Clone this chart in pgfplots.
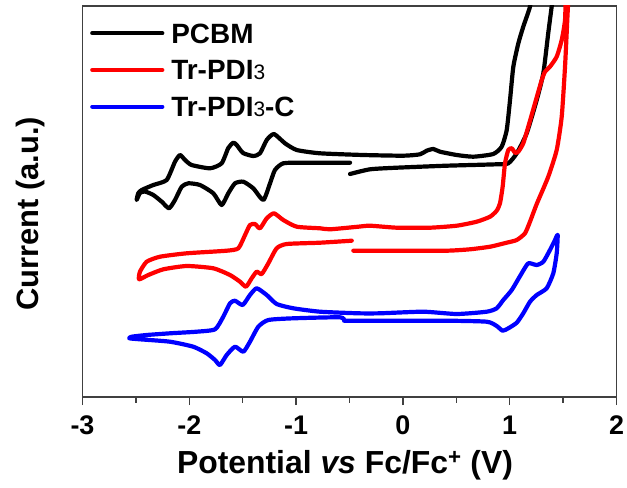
\documentclass[border=0pt]{standalone}
\usepackage{pgfplots}
\pgfplotsset{compat=1.18}
\usepackage{fontspec}
\setmainfont{Liberation Sans}
\newcommand{\three}{{\fontseries{m}\selectfont\fontsize{21}{21}\selectfont 3}}
\begin{document}
\begin{tikzpicture}
\begin{axis}[name=ax, scale only axis, width=534bp, height=391bp,
  xmin=-3, xmax=2, ymin=0, ymax=391,
  xtick={-3,-2,-1,0,1,2}, xticklabels={-3,-2,-1,0,1,2},
  minor x tick num=1, ytick=\empty, xtick pos=bottom, tick align=outside,
  major tick length=8bp, minor tick length=5.5bp,
  axis line style={line width=1.3bp, black!75},
  every tick/.style={line width=1.3bp, black!75},
  xticklabel style={font=\bfseries\fontsize{27}{27}\selectfont, black, anchor=base, yshift=-29bp},
  xlabel={Potential \textit{vs} Fc/Fc\textsuperscript{+} (V)},
  ylabel={Current (a.u.)},
  xlabel style={font=\bfseries\fontsize{32}{32}\selectfont, at={(axis description cs:0.4916,-0.1944)}, anchor=base},
  ylabel style={font=\bfseries\fontsize{31}{31}\selectfont, at={(axis description cs:-0.0833,0.468)}, anchor=base},
  legend style={at={(axis description cs:0.014,0.9565)}, anchor=north west, draw=none, fill=none,
    font=\bfseries\fontsize{28}{28}\selectfont, row sep=16.7bp, inner sep=0pt,
    nodes={text height=20bp, text depth=0bp, inner sep=0pt},
    /tikz/every odd column/.style={column sep=7bp}},
  legend cell align=left,
  legend image code/.code={\draw[#1, line width=4.2bp] (0bp,0bp) -- (70bp,0bp);},
  every axis plot/.append style={line width=4.2bp, line join=round, line cap=round, smooth, tension=0.35},
]
\addplot[black] coordinates {
(-0.495,223) (-0.308,227.7) (-0.058,229.3) (0.410,231.3) (0.878,232.7) (0.987,233.7)
(1.066,243.7) (1.159,263.7) (1.253,297) (1.315,324) (1.361,364) (1.393,390.3) (1.415,407)
(1.209,407) (1.190,390.3) (1.127,370.3) (1.081,353.7) (1.034,330.3) (1.003,297) (0.972,267)
(0.925,250.3) (0.846,243) (0.659,240.3) (0.504,242) (0.347,245.3) (0.285,248) (0.223,246.3)
(0.160,242.7) (0.004,241.3) (-0.371,242) (-0.776,243.7) (-0.994,247) (-1.104,253.7) (-1.207,263)
(-1.275,257) (-1.338,243.7) (-1.401,241) (-1.497,244) (-1.556,252) (-1.588,254.3) (-1.635,249)
(-1.697,233.7) (-1.806,228.7) (-1.978,232) (-2.040,237) (-2.087,242) (-2.134,235.3) (-2.212,217)
(-2.337,212) (-2.446,207) (-2.478,203.7) (-2.493,197) (-2.462,204) (-2.415,205.5) (-2.337,202)
(-2.258,195.3) (-2.190,188.7) (-2.134,197) (-2.071,210.3) (-2.009,213.7) (-1.900,212) (-1.775,203.7)
(-1.697,192) (-1.635,203.7) (-1.572,213.7) (-1.494,215.3) (-1.401,208.7) (-1.307,197) (-1.244,213.7)
(-1.198,227) (-1.120,233.7) (-0.933,234.3) (-0.495,234.3)
};
\addlegendentry{PCBM}
\addplot[red] coordinates {
(-0.464,146.3) (-0.058,146.3) (0.410,146.3) (0.628,147.7) (0.816,150.3) (0.972,154.3) (1.066,157)
(1.143,163.7) (1.190,175.3) (1.253,193) (1.361,220.3) (1.440,247) (1.487,280.3) (1.518,330.3)
(1.539,377) (1.551,407) (1.527,407) (1.518,377) (1.487,357) (1.440,340.3) (1.377,330.3) (1.331,325.3)
(1.300,317) (1.237,293.7) (1.174,270.3) (1.127,253.7) (1.081,245.3) (1.050,244.3) (1.019,248.7)
(0.987,247) (0.956,233.7) (0.934,210.3) (0.909,193.7) (0.878,186.3) (0.816,180.3) (0.691,175.3)
(0.504,171.3) (0.254,169.3) (-0.058,169.3) (-0.308,171.3) (-0.418,170.3) (-0.683,167.7) (-0.776,168.7)
(-0.994,170.3) (-1.120,177) (-1.207,183.7) (-1.275,178.7) (-1.338,168.7) (-1.385,173) (-1.432,172)
(-1.478,162) (-1.541,148.7) (-1.650,146.3) (-2.024,143.7) (-2.274,140.3) (-2.399,135.3) (-2.462,125.3)
(-2.47,117.7) (-2.384,122) (-2.243,127.7) (-2.024,131) (-1.775,128.7) (-1.619,122) (-1.525,115.3)
(-1.469,110.3) (-1.416,118.7) (-1.369,125.3) (-1.322,123) (-1.260,133.7) (-1.182,148.7) (-1.088,153)
(-0.776,154.3) (-0.479,156.3)
};
\addlegendentry{Tr-PDI\three}
\addplot[blue] coordinates {
(-0.551,76.3) (-0.214,76.3) (0.410,76.3) (0.785,75.3) (0.878,71) (0.934,66.3) (0.987,68.7)
(1.066,74.3) (1.127,83.7) (1.190,95.3) (1.253,102) (1.346,108.7) (1.408,123.7) (1.440,143.7)
(1.449,162) (1.424,157) (1.377,147) (1.315,135.3) (1.253,132) (1.174,133.7) (1.112,123.7)
(1.019,107) (0.940,97) (0.878,88.7) (0.785,85.3) (0.504,83) (0.191,85.3) (-0.214,83.7) (-0.418,83.7)
(-0.776,85.3) (-1.026,88.7) (-1.182,93) (-1.275,102) (-1.369,108.7) (-1.432,102) (-1.500,92)
(-1.572,96.3) (-1.619,93.7) (-1.682,80.3) (-1.759,67.7) (-1.931,65.3) (-2.181,63.7) (-2.399,62)
(-2.539,60.3) (-2.562,58.7) (-2.462,57.7) (-2.181,55.3) (-1.963,50.3) (-1.837,43.7) (-1.759,37)
(-1.713,32) (-1.650,42) (-1.572,50.3) (-1.494,45.3) (-1.432,55.3) (-1.354,70.3) (-1.260,77)
(-1.026,78.7) (-0.589,79.7) (-0.551,76.3)
};
\addlegendentry{Tr-PDI\three-C}
\end{axis}
\pgfresetboundingbox
\path ([xshift=-82.5bp,yshift=-90bp]ax.south west) rectangle ([xshift=10.5bp,yshift=6bp]ax.north east);
\end{tikzpicture}
\end{document}
